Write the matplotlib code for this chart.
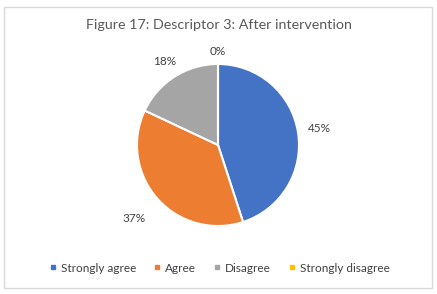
import matplotlib
matplotlib.use("Agg")
import matplotlib.pyplot as plt
from matplotlib.patches import Rectangle
from matplotlib.lines import Line2D
import numpy as np

categories = ["Strongly agree", "Agree", "Disagree", "Strongly disagree"]
values = [45, 37, 18, 0]
labels = ["45%", "37%", "18%", "0%"]
colors = ["#4472C4", "#ED7D31", "#A5A5A5", "#FFC000"]

plt.rcParams['font.family'] = ['Lato', 'DejaVu Sans']

fig = plt.figure(figsize=(4.37, 2.94), dpi=100)
fig.patch.set_facecolor("white")
fig.add_artist(Rectangle((4/437, 6/294), 428/437, 281/294, transform=fig.transFigure,
                         fill=False, edgecolor="#D9D9D9", linewidth=1))

# pie axes: center (218,145), radius ~81 px
r = 81
cx, cy = 218, 294 - 145
ax = fig.add_axes([(cx - r)/437, (cy - r)/294, 2*r/437, 2*r/294])
wedges, _ = ax.pie(values, colors=colors, startangle=90, counterclock=False,
                   wedgeprops=dict(edgecolor="white", linewidth=1.5), radius=1)
theta = 90
dists = [1.27, 1.38, 1.22, 1.16]
for v, lab, d in zip(values, labels, dists):
    mid = theta - v * 3.6 / 2
    theta -= v * 3.6
    ax.text(d*np.cos(np.radians(mid)), d*np.sin(np.radians(mid)), lab,
            ha="center", va="center", fontsize=8.5, color="#404040")
ax.set_xlim(-1, 1); ax.set_ylim(-1, 1)
ax.set_aspect("equal")
ax.axis("off")

fig.text(0.5, 1 - 25/294, "Figure 17: Descriptor 3: After intervention", ha="center", va="center",
         fontsize=10.3, color="#595959")

handles = [Line2D([0], [0], marker="s", linestyle="", markersize=3, markerfacecolor=c,
                  markeredgecolor=c) for c in colors]
fig.legend(handles, categories, loc="center", bbox_to_anchor=(0.5, 1 - 268/294), ncol=4,
           frameon=False, fontsize=8.5, handletextpad=0.2, columnspacing=1.25, handlelength=1,
           labelcolor="#404040")

fig.savefig("out.png", dpi=100)
